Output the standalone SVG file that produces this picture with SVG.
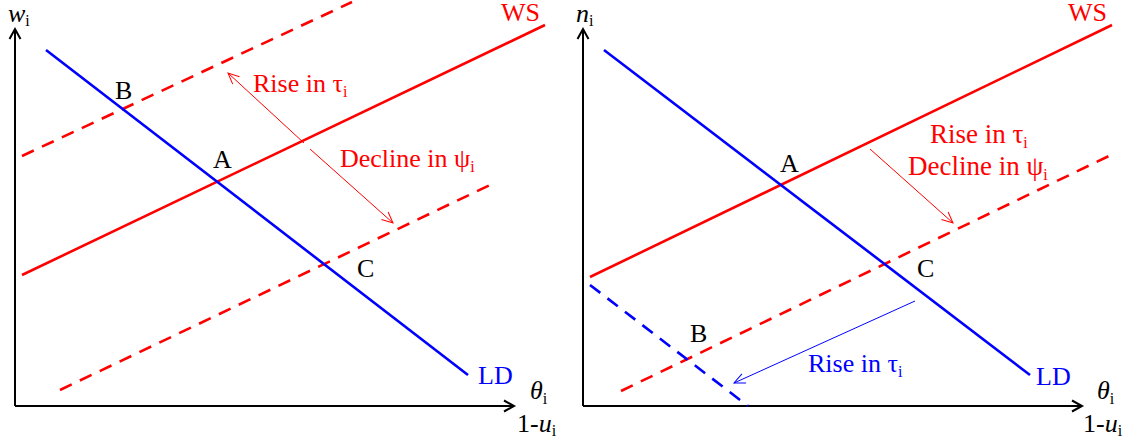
<svg xmlns="http://www.w3.org/2000/svg" width="1133" height="443" viewBox="0 0 1133 443" font-family="'Liberation Serif', serif">
<defs>
<marker id="axh" markerWidth="14" markerHeight="14" refX="11" refY="7" orient="auto" markerUnits="userSpaceOnUse">
<path d="M1,1.5 L11,7 L1,12.5" fill="none" stroke="#000" stroke-width="2"/>
</marker>
<marker id="rh" markerWidth="14" markerHeight="14" refX="12" refY="6" orient="auto" markerUnits="userSpaceOnUse">
<path d="M1,1 L12,6 L1,11" fill="none" stroke="#ff0000" stroke-width="1"/>
</marker>
<marker id="bh" markerWidth="14" markerHeight="14" refX="12" refY="6" orient="auto" markerUnits="userSpaceOnUse">
<path d="M1,1 L12,6 L1,11" fill="none" stroke="#0000ff" stroke-width="1"/>
</marker>
</defs>
<style>
text{font-family:'Liberation Serif',serif;font-size:26px}
.it{font-style:italic}
.sub{font-size:16px;font-style:normal}
.ann{font-size:26px}
.red{fill:#ff0000}
.blue{fill:#0000ff}
.blk{fill:#000}
.axis{stroke:#000;stroke-width:2;fill:none}
.ws{stroke:#ff0000;stroke-width:2.6;fill:none}
.ld{stroke:#0000ff;stroke-width:2.6;fill:none}
.dash{stroke-dasharray:13 9}
.arr-r{stroke:#ff0000;stroke-width:1;fill:none}
.arr-b{stroke:#0000ff;stroke-width:1;fill:none}
</style>
<rect width="1133" height="443" fill="#fff"/>

<g id="left-panel">
<g id="left-axes">
<line class="axis" x1="15" y1="406" x2="15" y2="29" marker-end="url(#axh)"/>
<line class="axis" x1="15" y1="406" x2="514" y2="406" marker-end="url(#axh)"/>
<text x="8" y="22" class="it blk">w<tspan class="sub" dy="4">i</tspan></text>
<text x="530" y="399" class="it blk">θ<tspan class="sub" dy="5">i</tspan></text>
<text x="517" y="432" class="blk">1-<tspan class="it">u</tspan><tspan class="sub" dy="4">i</tspan></text>
</g>
<g id="left-connectors">
<line class="ws" x1="22" y1="275" x2="545" y2="25"/>
<line class="ws dash" x1="22" y1="156" x2="352" y2="2"/>
<line class="ws dash" x1="60" y1="390" x2="490" y2="185"/>
<line class="ld" x1="46" y1="50" x2="468" y2="375"/>
<line class="arr-r" x1="304" y1="143" x2="228" y2="73" marker-end="url(#rh)"/>
<line class="arr-r" x1="310" y1="149" x2="393" y2="223" marker-end="url(#rh)"/>
</g>
<g id="left-labels">
<text x="501" y="21" class="red">WS</text>
<text x="478" y="384" class="blue">LD</text>
<text x="115" y="99" class="blk">B</text>
<text x="213" y="168" class="blk">A</text>
<text x="357" y="277" class="blk">C</text>
<text x="253" y="92" class="red ann">Rise in τ<tspan class="sub" dy="5">i</tspan></text>
<text x="340" y="167" class="red ann">Decline in ψ<tspan class="sub" dy="5">i</tspan></text>
</g>
</g>

<g id="right-panel">
<g id="right-axes">
<line class="axis" x1="583" y1="406" x2="583" y2="29" marker-end="url(#axh)"/>
<line class="axis" x1="583" y1="406" x2="1082" y2="406" marker-end="url(#axh)"/>
<text x="576" y="22" class="it blk">n<tspan class="sub" dy="4">i</tspan></text>
<text x="1097" y="399" class="it blk">θ<tspan class="sub" dy="5">i</tspan></text>
<text x="1083" y="432" class="blk">1-<tspan class="it">u</tspan><tspan class="sub" dy="4">i</tspan></text>
</g>
<g id="right-connectors">
<line class="ws" x1="590" y1="277" x2="1112" y2="25"/>
<line class="ws dash" x1="621" y1="391" x2="1113" y2="154"/>
<line class="ld" x1="604" y1="50" x2="1030" y2="375"/>
<line class="ld dash" x1="590" y1="285" x2="748" y2="406"/>
<line class="arr-r" x1="870" y1="149" x2="953" y2="223" marker-end="url(#rh)"/>
<line class="arr-b" x1="915" y1="301" x2="734" y2="383" marker-end="url(#bh)"/>
</g>
<g id="right-labels">
<text x="1068" y="21" class="red">WS</text>
<text x="1036" y="385" class="blue">LD</text>
<text x="780" y="172" class="blk">A</text>
<text x="690" y="342" class="blk">B</text>
<text x="917" y="277" class="blk">C</text>
<text x="930" y="143" class="red" style="font-size:27px">Rise in τ<tspan class="sub" dy="5">i</tspan></text>
<text x="908" y="175" class="red" style="font-size:27px">Decline in ψ<tspan class="sub" dy="5">i</tspan></text>
<text x="808" y="372" class="blue ann">Rise in τ<tspan class="sub" dy="5">i</tspan></text>
</g>
</g>
</svg>
